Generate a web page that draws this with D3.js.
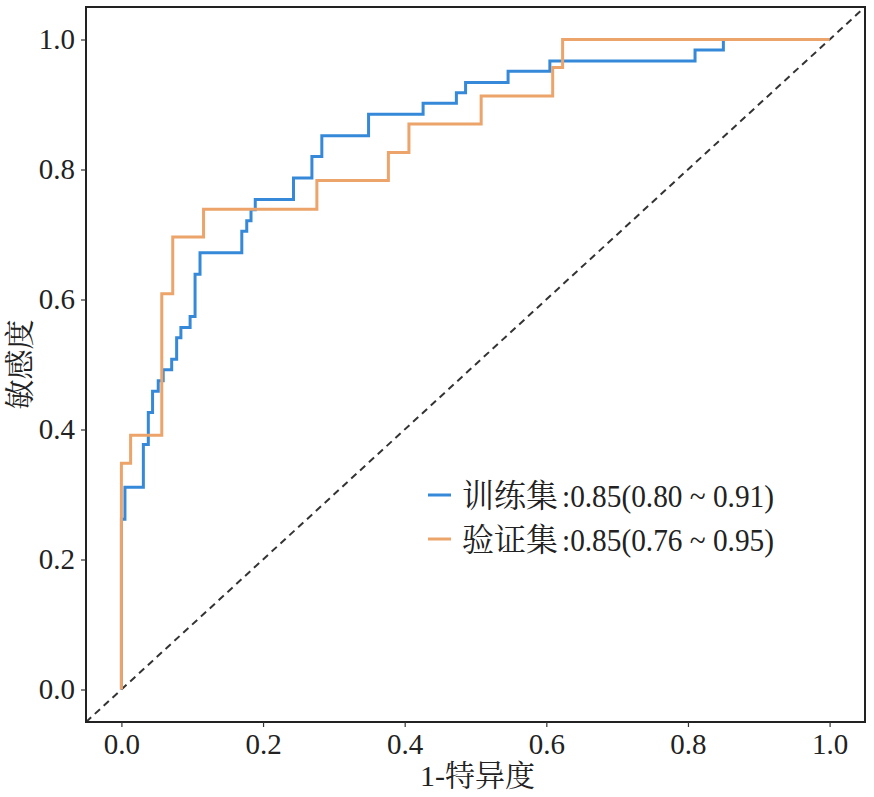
<!DOCTYPE html>
<html><head><meta charset="utf-8">
<script src="https://cdn.jsdelivr.net/npm/d3@7/dist/d3.min.js"></script>
<style>body{margin:0;background:#fff}</style>
</head><body><svg id="c" width="874" height="797"></svg>
<script>
// Training set ROC vertices (1-specificity, sensitivity)
const trainFpr = [0, 0, 0.005, 0.031, 0.038, 0.044, 0.052, 0.059, 0.071, 0.078, 0.084, 0.097, 0.104, 0.111, 0.170, 0.177, 0.183, 0.189, 0.243, 0.269, 0.283, 0.349, 0.426, 0.473, 0.486, 0.546, 0.605, 0.810, 0.850, 1.0];
const trainTpr = [0, 0.262, 0.311, 0.377, 0.426, 0.459, 0.475, 0.492, 0.508, 0.541, 0.557, 0.574, 0.639, 0.672, 0.705, 0.721, 0.738, 0.754, 0.787, 0.820, 0.852, 0.885, 0.902, 0.918, 0.934, 0.951, 0.967, 0.984, 1.0, 1.0];
// Validation set ROC vertices
const validFpr = [0, 0, 0.013, 0.057, 0.0725, 0.116, 0.276, 0.377, 0.406, 0.508, 0.609, 0.623, 1.0];
const validTpr = [0, 0.348, 0.391, 0.609, 0.696, 0.739, 0.783, 0.826, 0.870, 0.913, 0.957, 1.0, 1.0];
const tickValues = [0, 0.2, 0.4, 0.6, 0.8, 1.0];
const seriesNames = ["训练集", "验证集"];
const aucLabels = [":0.85(0.80 ~ 0.91)", ":0.85(0.76 ~ 0.95)"];
const seriesColors = ["#3589d8", "#eca46b"];
const xTitle = "1-特异度";
const yTitle = "敏感度";

const svg = d3.select("#c");
const L = 86, R = 865, T = 7, B = 722;
const x = d3.scaleLinear().domain([-0.05, 1.05]).range([L, R]);
const y = d3.scaleLinear().domain([-0.05, 1.05]).range([B, T]);
const serif = "'Liberation Serif','Times New Roman','Noto Serif CJK SC','Noto Sans CJK SC',serif";

svg.append("clipPath").attr("id", "clip").append("rect")
  .attr("x", L).attr("y", T).attr("width", R - L).attr("height", B - T);

const g = svg.append("g").attr("clip-path", "url(#clip)");
// diagonal reference
g.append("line")
  .attr("x1", x(-0.05)).attr("y1", y(-0.05)).attr("x2", x(1.05)).attr("y2", y(1.05))
  .attr("stroke", "#333").attr("stroke-width", 2).attr("stroke-dasharray", "7,5");

const line = d3.line().curve(d3.curveStepAfter).x(d => x(d[0])).y(d => y(d[1]));
const series = [d3.zip(trainFpr, trainTpr), d3.zip(validFpr, validTpr)];
series.forEach((s, i) => {
  g.append("path").datum(s).attr("d", line)
    .attr("fill", "none").attr("stroke", seriesColors[i]).attr("stroke-width", 3)
    .attr("stroke-linejoin", "miter");
});

// border
svg.append("rect").attr("x", L).attr("y", T).attr("width", R - L).attr("height", B - T)
  .attr("fill", "none").attr("stroke", "#222").attr("stroke-width", 2);

const fmt = d3.format(".1f");
const xa = svg.append("g").attr("transform", `translate(0,${B})`)
  .call(d3.axisBottom(x).tickValues(tickValues).tickFormat(fmt).tickSize(5).tickPadding(6));
const ya = svg.append("g").attr("transform", `translate(${L},0)`)
  .call(d3.axisLeft(y).tickValues(tickValues).tickFormat(fmt).tickSize(5).tickPadding(6));
[xa, ya].forEach(a => {
  a.select(".domain").remove();
  a.selectAll("line").attr("stroke", "#333").attr("stroke-width", 1.2);
  a.selectAll("text").attr("font-family", serif).attr("font-size", 29).attr("fill", "#222");
});

svg.append("text").attr("x", (L + R) / 2 + 2).attr("y", 786).attr("text-anchor", "middle")
  .attr("font-family", serif).attr("font-size", 30).attr("fill", "#222").text(xTitle);
svg.append("text").attr("transform", `translate(30,${(T + B) / 2}) rotate(-90)`)
  .attr("text-anchor", "middle")
  .attr("font-family", serif).attr("font-size", 30).attr("fill", "#222").text(yTitle);

// legend
const lg = svg.append("g");
seriesNames.forEach((n, i) => {
  const cy = 495 + i * 44;
  lg.append("line").attr("x1", 428).attr("x2", 451).attr("y1", cy).attr("y2", cy)
    .attr("stroke", seriesColors[i]).attr("stroke-width", 3);
  lg.append("text").attr("x", 462).attr("y", cy + 12)
    .attr("font-family", serif).attr("font-size", 32).attr("fill", "#222").text(n);
  lg.append("text").attr("x", 562).attr("y", cy + 12)
    .attr("textLength", 212).attr("lengthAdjust", "spacingAndGlyphs")
    .attr("font-family", serif).attr("font-size", 32).attr("fill", "#222").text(aucLabels[i]);
});
</script></body></html>
